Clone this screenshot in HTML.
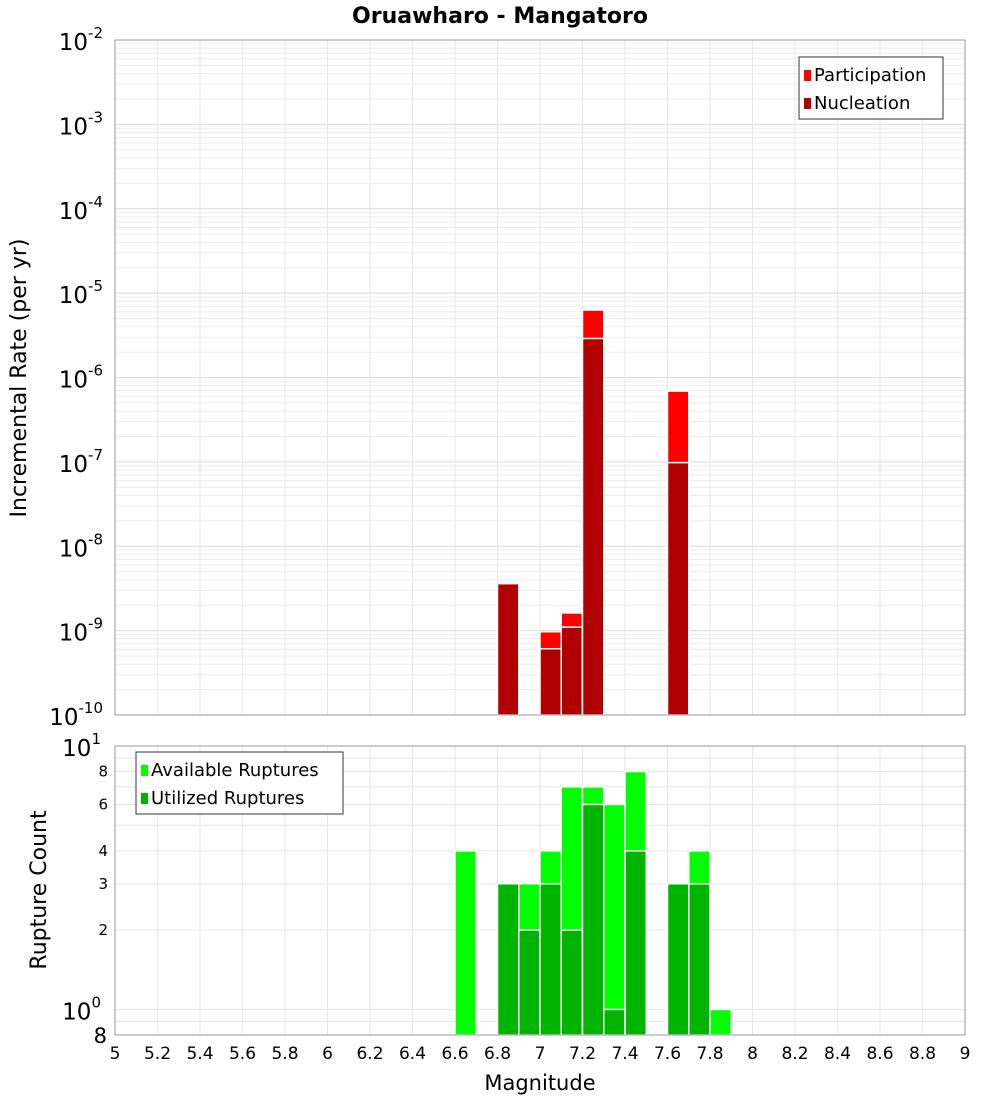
<!DOCTYPE html>
<html><head><meta charset="utf-8"><style>
html,body{margin:0;padding:0;background:#fff;}
svg{display:block;font-family:"Liberation Sans","DejaVu Sans",sans-serif;}
</style></head><body>
<svg id="chart" width="1000" height="1100" viewBox="0 0 1000 1100" xmlns="http://www.w3.org/2000/svg">
<text x="500" y="23" text-anchor="middle" font-size="22" font-weight="bold" font-family="DejaVu Sans, sans-serif">Oruawharo - Mangatoro</text>
<g id="topPlot"></g><g id="botPlot"></g>
<text transform="translate(26,378) rotate(-90)" text-anchor="middle" font-size="22" font-family="DejaVu Sans, sans-serif">Incremental Rate (per yr)</text>
<text transform="translate(46,890) rotate(-90)" text-anchor="middle" font-size="22" font-family="DejaVu Sans, sans-serif">Rupture Count</text>
<text x="540" y="1090" text-anchor="middle" font-size="21" font-family="DejaVu Sans, sans-serif">Magnitude</text>
</svg>
<script>
const mags = [6.85, 7.05, 7.15, 7.25, 7.65];
const participation = [3.6e-9, 9.7e-10, 1.62e-9, 6.3e-6, 6.9e-7];
const nucleation = [3.6e-9, 6.1e-10, 1.1e-9, 2.9e-6, 9.8e-8];
const countMags = [6.65, 6.85, 6.95, 7.05, 7.15, 7.25, 7.35, 7.45, 7.65, 7.75, 7.85];
const available = [4, 3, 3, 4, 7, 7, 6, 8, 3, 4, 1];
const utilized = [0, 3, 2, 3, 2, 6, 1, 4, 3, 3, 0];
const xTicks = [5,5.2,5.4,5.6,5.8,6,6.2,6.4,6.6,6.8,7,7.2,7.4,7.6,7.8,8,8.2,8.4,8.6,8.8,9];
const topExps = [-2,-3,-4,-5,-6,-7,-8,-9,-10];
const botTicks = [2,3,4,6,8];

const NS="http://www.w3.org/2000/svg";
const L=115,R=965,TT=40,TB=715,BT=746,BB=1035;
const xS=m=>L+(m-5)/4*(R-L);
const yT=v=>TT+(-2-Math.log10(v))/8*(TB-TT);
const bMin=Math.log10(0.8);
const yB=v=>BT+(1-Math.log10(v))/(1-bMin)*(BB-BT);
function el(p,t,a,txt){const e=document.createElementNS(NS,t);for(const k in a)e.setAttribute(k,a[k]);if(txt!==undefined)e.textContent=txt;p.appendChild(e);return e;}
const topG=document.getElementById('topPlot'),botG=document.getElementById('botPlot');
for(let d=-10;d<-2;d++)for(let k=1;k<10;k++){const yy=yT(k*Math.pow(10,d));
 const g=el(topG,'line',{x1:L,x2:R,y1:yy,y2:yy,stroke:k==1?'#dcdcdc':'#ececec','stroke-width':1});
 
 }
for(const t of xTicks){for(const [p,a,b] of [[topG,TT,TB],[botG,BT,BB]]){const g=el(p,'line',{x1:xS(t),x2:xS(t),y1:a,y2:b,stroke:'#e6e6e6'});
 
 }}
for(let v=1;v<=10;v++){const g=el(botG,'line',{x1:L,x2:R,y1:yB(v),y2:yB(v),stroke:'#e6e6e6'});
 
 }
const g9=el(botG,'line',{x1:L,x2:R,y1:yB(0.9),y2:yB(0.9),stroke:'#e6e6e6'});


function bar(p,m,v,fill,yf,base,name){const x0=xS(m-0.05),x1=xS(m+0.05);const yy=yf(v);
 const r=el(p,'rect',{x:x0,y:yy,width:x1-x0,height:base-yy,fill:fill,stroke:'#fff','stroke-width':1.5});
 
 }
mags.forEach((m,i)=>{bar(topG,m,participation[i],'#ff0000',yT,TB,'participation-bar');bar(topG,m,nucleation[i],'#b00000',yT,TB,'nucleation-bar');});
countMags.forEach((m,i)=>{if(available[i]>0)bar(botG,m,available[i],'#00ff00',yB,BB,'available-bar');if(utilized[i]>0)bar(botG,m,utilized[i],'#00b400',yB,BB,'utilized-bar');});
for(const [p,a,b,n] of [[topG,TT,TB,'top-plot-frame'],[botG,BT,BB,'bottom-plot-frame']]){const f=el(p,'rect',{x:L,y:a,width:R-L,height:b-a,fill:'none',stroke:'#999'});
 
 }
topExps.forEach(e=>{const t=el(topG,'text',{x:L-12,y:yT(Math.pow(10,e))+10,'text-anchor':'end','font-size':23,'font-family':'DejaVu Sans, sans-serif'});
 
 
 el(t,'tspan',{},'10');el(t,'tspan',{dy:-12,'font-size':15},String(e));});
for(const [v,e] of [[10,1],[1,0]]){const t=el(botG,'text',{x:L-14,y:yB(v)+10,'text-anchor':'end','font-size':23,'font-family':'DejaVu Sans, sans-serif'});
 
 
 el(t,'tspan',{},'10');el(t,'tspan',{dy:-12,'font-size':15},String(e));}
botTicks.forEach(v=>{const t=el(botG,'text',{x:L-7,y:yB(v)+5,'text-anchor':'end','font-size':15,'font-family':'DejaVu Sans, sans-serif'},String(v));
 
 });
const t8=el(botG,'text',{x:L-8,y:BB+8,'text-anchor':'end','font-size':21,'font-family':'DejaVu Sans, sans-serif'},'8');


xTicks.forEach(t=>{const s=el(botG,'text',{x:xS(t),y:1059,'text-anchor':'middle','font-size':17,'font-family':'DejaVu Sans, sans-serif'},String(t));
 
 });
function legend(p,x0,y0,w,items,name){const g=el(p,'g',{});
 
 
 el(g,'rect',{x:x0,y:y0,width:w,height:62,fill:'#fff',stroke:'#333'});
 items.forEach((it,i)=>{const e=el(g,'g',{});
  
  
  el(e,'rect',{x:x0+5,y:y0+13+i*28,width:7,height:11,fill:it[1]});
  el(e,'text',{x:x0+15,y:y0+24+i*28,'font-size':18,'font-family':'DejaVu Sans, sans-serif'},it[0]);});}
legend(topG,799,57,144,[['Participation','#ff0000'],['Nucleation','#b00000']],'top-legend');
legend(botG,136,752,207,[['Available Ruptures','#00ff00'],['Utilized Ruptures','#00b400']],'bottom-legend');
</script>
</body></html>
